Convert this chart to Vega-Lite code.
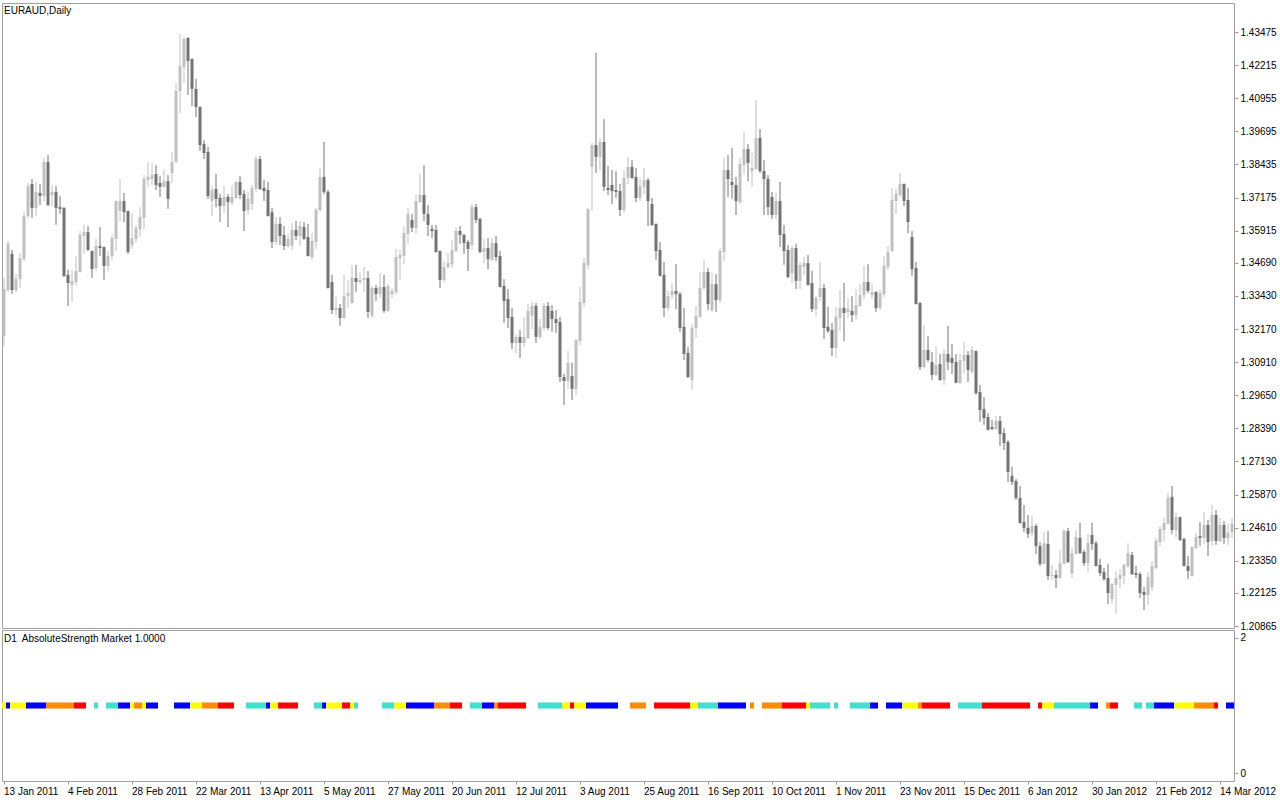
{
"$schema":"https://vega.github.io/schema/vega-lite/v6.json",
"padding":{"left":1,"top":2,"right":0,"bottom":0},
"background":"white",
"bounds":"flush",
"spacing":2,
"resolve":{"scale":{"x":"shared"}},
"config":{"font":"Liberation Sans","view":{"stroke":"#a0a0a0","strokeWidth":1},"axis":{"labelFont":"Liberation Sans","labelFontSize":10,"labelColor":"#000000","tickColor":"#a0a0a0","domain":false,"grid":false,"title":null,"labelFlush":false,"labelBound":false,"labelOverlap":false,"labelSeparation":0},"axisY":{"labelOverlap":false},"axisRight":{"labelOverlap":false},"axisQuantitative":{"labelOverlap":false}},
"datasets":{"d":[
{"t":"2011-01-13","o":1.3190,"h":1.3411,"l":1.3152,"c":1.3369,"s":"Y"},
{"t":"2011-01-14","o":1.3365,"h":1.3552,"l":1.3358,"c":1.3541,"s":"B"},
{"t":"2011-01-17","o":1.3503,"h":1.3518,"l":1.3350,"c":1.3365,"s":"Y"},
{"t":"2011-01-18","o":1.3365,"h":1.3426,"l":1.3358,"c":1.3407,"s":"Y"},
{"t":"2011-01-19","o":1.3407,"h":1.3506,"l":1.3373,"c":1.3487,"s":"Y"},
{"t":"2011-01-20","o":1.3483,"h":1.3662,"l":1.3476,"c":1.3647,"s":"Y"},
{"t":"2011-01-21","o":1.3647,"h":1.3773,"l":1.3640,"c":1.3761,"s":"B"},
{"t":"2011-01-24","o":1.3769,"h":1.3788,"l":1.3640,"c":1.3678,"s":"B"},
{"t":"2011-01-25","o":1.3678,"h":1.3777,"l":1.3647,"c":1.3739,"s":"B"},
{"t":"2011-01-26","o":1.3735,"h":1.3769,"l":1.3689,"c":1.3723,"s":"B"},
{"t":"2011-01-27","o":1.3723,"h":1.3868,"l":1.3704,"c":1.3853,"s":"B"},
{"t":"2011-01-28","o":1.3853,"h":1.3879,"l":1.3685,"c":1.3689,"s":"O"},
{"t":"2011-01-31","o":1.3727,"h":1.3765,"l":1.3685,"c":1.3739,"s":"O"},
{"t":"2011-02-01","o":1.3739,"h":1.3761,"l":1.3613,"c":1.3678,"s":"O"},
{"t":"2011-02-02","o":1.3681,"h":1.3723,"l":1.3655,"c":1.3674,"s":"O"},
{"t":"2011-02-03","o":1.3678,"h":1.3681,"l":1.3415,"c":1.3419,"s":"O"},
{"t":"2011-02-04","o":1.3423,"h":1.3442,"l":1.3305,"c":1.3392,"s":"O"},
{"t":"2011-02-07","o":1.3385,"h":1.3442,"l":1.3320,"c":1.3400,"s":"O"},
{"t":"2011-02-08","o":1.3396,"h":1.3495,"l":1.3381,"c":1.3438,"s":"R"},
{"t":"2011-02-09","o":1.3434,"h":1.3590,"l":1.3432,"c":1.3575,"s":"R"},
{"t":"2011-02-10","o":1.3571,"h":1.3613,"l":1.3503,"c":1.3586,"s":"R"},
{"t":"2011-02-11","o":1.3586,"h":1.3609,"l":1.3514,"c":1.3518,"s":""},
{"t":"2011-02-14","o":1.3514,"h":1.3516,"l":1.3411,"c":1.3445,"s":""},
{"t":"2011-02-15","o":1.3449,"h":1.3560,"l":1.3438,"c":1.3533,"s":"T"},
{"t":"2011-02-16","o":1.3533,"h":1.3605,"l":1.3495,"c":1.3525,"s":""},
{"t":"2011-02-17","o":1.3529,"h":1.3531,"l":1.3404,"c":1.3457,"s":""},
{"t":"2011-02-18","o":1.3457,"h":1.3514,"l":1.3438,"c":1.3495,"s":"T"},
{"t":"2011-02-21","o":1.3495,"h":1.3575,"l":1.3480,"c":1.3563,"s":"T"},
{"t":"2011-02-22","o":1.3560,"h":1.3706,"l":1.3514,"c":1.3704,"s":"T"},
{"t":"2011-02-23","o":1.3666,"h":1.3788,"l":1.3628,"c":1.3704,"s":"B"},
{"t":"2011-02-24","o":1.3704,"h":1.3735,"l":1.3624,"c":1.3662,"s":"B"},
{"t":"2011-02-25","o":1.3666,"h":1.3668,"l":1.3503,"c":1.3510,"s":"B"},
{"t":"2011-02-28","o":1.3537,"h":1.3655,"l":1.3522,"c":1.3563,"s":"Y"},
{"t":"2011-03-01","o":1.3560,"h":1.3613,"l":1.3544,"c":1.3602,"s":"O"},
{"t":"2011-03-02","o":1.3598,"h":1.3681,"l":1.3567,"c":1.3643,"s":"O"},
{"t":"2011-03-03","o":1.3640,"h":1.3803,"l":1.3598,"c":1.3788,"s":"Y"},
{"t":"2011-03-04","o":1.3784,"h":1.3853,"l":1.3758,"c":1.3796,"s":"B"},
{"t":"2011-03-07","o":1.3788,"h":1.3849,"l":1.3765,"c":1.3803,"s":"B"},
{"t":"2011-03-08","o":1.3807,"h":1.3841,"l":1.3746,"c":1.3765,"s":"B"},
{"t":"2011-03-09","o":1.3773,"h":1.3799,"l":1.3720,"c":1.3758,"s":""},
{"t":"2011-03-10","o":1.3758,"h":1.3822,"l":1.3754,"c":1.3780,"s":""},
{"t":"2011-03-11","o":1.3780,"h":1.3803,"l":1.3674,"c":1.3712,"s":""},
{"t":"2011-03-14","o":1.3811,"h":1.3891,"l":1.3773,"c":1.3853,"s":""},
{"t":"2011-03-15","o":1.3853,"h":1.4153,"l":1.3849,"c":1.4123,"s":"B"},
{"t":"2011-03-16","o":1.4123,"h":1.4340,"l":1.4039,"c":1.4218,"s":"B"},
{"t":"2011-03-17","o":1.4214,"h":1.4329,"l":1.4153,"c":1.4321,"s":"B"},
{"t":"2011-03-18","o":1.4325,"h":1.4327,"l":1.4108,"c":1.4237,"s":"B"},
{"t":"2011-03-21","o":1.4245,"h":1.4247,"l":1.4066,"c":1.4131,"s":"Y"},
{"t":"2011-03-22","o":1.4131,"h":1.4169,"l":1.4024,"c":1.4062,"s":"Y"},
{"t":"2011-03-23","o":1.4062,"h":1.4064,"l":1.3895,"c":1.3917,"s":"Y"},
{"t":"2011-03-24","o":1.3921,"h":1.3936,"l":1.3864,"c":1.3887,"s":"O"},
{"t":"2011-03-25","o":1.3891,"h":1.3910,"l":1.3712,"c":1.3723,"s":"O"},
{"t":"2011-03-28","o":1.3704,"h":1.3761,"l":1.3647,"c":1.3746,"s":"O"},
{"t":"2011-03-29","o":1.3750,"h":1.3807,"l":1.3681,"c":1.3712,"s":"O"},
{"t":"2011-03-30","o":1.3716,"h":1.3731,"l":1.3624,"c":1.3685,"s":"R"},
{"t":"2011-03-31","o":1.3685,"h":1.3761,"l":1.3659,"c":1.3720,"s":"R"},
{"t":"2011-04-01","o":1.3720,"h":1.3731,"l":1.3605,"c":1.3700,"s":"R"},
{"t":"2011-04-04","o":1.3697,"h":1.3765,"l":1.3689,"c":1.3720,"s":"R"},
{"t":"2011-04-05","o":1.3716,"h":1.3780,"l":1.3712,"c":1.3777,"s":""},
{"t":"2011-04-06","o":1.3777,"h":1.3799,"l":1.3712,"c":1.3727,"s":""},
{"t":"2011-04-07","o":1.3731,"h":1.3746,"l":1.3590,"c":1.3666,"s":""},
{"t":"2011-04-08","o":1.3670,"h":1.3739,"l":1.3651,"c":1.3712,"s":"T"},
{"t":"2011-04-11","o":1.3693,"h":1.3765,"l":1.3670,"c":1.3754,"s":"T"},
{"t":"2011-04-12","o":1.3750,"h":1.3876,"l":1.3739,"c":1.3864,"s":"T"},
{"t":"2011-04-13","o":1.3864,"h":1.3876,"l":1.3746,"c":1.3750,"s":"T"},
{"t":"2011-04-14","o":1.3754,"h":1.3784,"l":1.3704,"c":1.3742,"s":"T"},
{"t":"2011-04-15","o":1.3746,"h":1.3777,"l":1.3645,"c":1.3647,"s":"B"},
{"t":"2011-04-18","o":1.3662,"h":1.3678,"l":1.3525,"c":1.3548,"s":"Y"},
{"t":"2011-04-19","o":1.3548,"h":1.3643,"l":1.3537,"c":1.3617,"s":"Y"},
{"t":"2011-04-20","o":1.3617,"h":1.3643,"l":1.3537,"c":1.3571,"s":"R"},
{"t":"2011-04-21","o":1.3575,"h":1.3609,"l":1.3518,"c":1.3533,"s":"R"},
{"t":"2011-04-22","o":1.3533,"h":1.3579,"l":1.3525,"c":1.3560,"s":"R"},
{"t":"2011-04-25","o":1.3533,"h":1.3621,"l":1.3518,"c":1.3594,"s":"R"},
{"t":"2011-04-26","o":1.3594,"h":1.3628,"l":1.3556,"c":1.3571,"s":"R"},
{"t":"2011-04-27","o":1.3571,"h":1.3628,"l":1.3533,"c":1.3609,"s":""},
{"t":"2011-04-28","o":1.3605,"h":1.3624,"l":1.3556,"c":1.3560,"s":""},
{"t":"2011-04-29","o":1.3567,"h":1.3617,"l":1.3493,"c":1.3495,"s":""},
{"t":"2011-05-02","o":1.3491,"h":1.3582,"l":1.3480,"c":1.3552,"s":""},
{"t":"2011-05-03","o":1.3548,"h":1.3678,"l":1.3522,"c":1.3670,"s":"T"},
{"t":"2011-05-04","o":1.3670,"h":1.3830,"l":1.3662,"c":1.3796,"s":"T"},
{"t":"2011-05-05","o":1.3796,"h":1.3929,"l":1.3731,"c":1.3739,"s":"B"},
{"t":"2011-05-06","o":1.3739,"h":1.3746,"l":1.3371,"c":1.3373,"s":"Y"},
{"t":"2011-05-09","o":1.3396,"h":1.3423,"l":1.3274,"c":1.3289,"s":"Y"},
{"t":"2011-05-10","o":1.3289,"h":1.3339,"l":1.3267,"c":1.3297,"s":"Y"},
{"t":"2011-05-11","o":1.3297,"h":1.3312,"l":1.3229,"c":1.3259,"s":"Y"},
{"t":"2011-05-12","o":1.3259,"h":1.3423,"l":1.3257,"c":1.3343,"s":"R"},
{"t":"2011-05-13","o":1.3343,"h":1.3404,"l":1.3297,"c":1.3354,"s":"R"},
{"t":"2011-05-16","o":1.3316,"h":1.3461,"l":1.3314,"c":1.3411,"s":"Y"},
{"t":"2011-05-17","o":1.3411,"h":1.3461,"l":1.3358,"c":1.3396,"s":"T"},
{"t":"2011-05-18","o":1.3396,"h":1.3434,"l":1.3388,"c":1.3404,"s":""},
{"t":"2011-05-19","o":1.3404,"h":1.3453,"l":1.3358,"c":1.3411,"s":""},
{"t":"2011-05-20","o":1.3411,"h":1.3438,"l":1.3259,"c":1.3282,"s":""},
{"t":"2011-05-23","o":1.3267,"h":1.3381,"l":1.3259,"c":1.3373,"s":""},
{"t":"2011-05-24","o":1.3373,"h":1.3385,"l":1.3324,"c":1.3350,"s":""},
{"t":"2011-05-25","o":1.3350,"h":1.3430,"l":1.3335,"c":1.3377,"s":""},
{"t":"2011-05-26","o":1.3377,"h":1.3423,"l":1.3278,"c":1.3286,"s":"T"},
{"t":"2011-05-27","o":1.3286,"h":1.3388,"l":1.3282,"c":1.3381,"s":"T"},
{"t":"2011-05-30","o":1.3350,"h":1.3373,"l":1.3335,"c":1.3362,"s":"T"},
{"t":"2011-05-31","o":1.3358,"h":1.3522,"l":1.3350,"c":1.3491,"s":"Y"},
{"t":"2011-06-01","o":1.3487,"h":1.3518,"l":1.3404,"c":1.3499,"s":"Y"},
{"t":"2011-06-02","o":1.3495,"h":1.3609,"l":1.3464,"c":1.3582,"s":"Y"},
{"t":"2011-06-03","o":1.3579,"h":1.3678,"l":1.3541,"c":1.3655,"s":"B"},
{"t":"2011-06-06","o":1.3632,"h":1.3655,"l":1.3586,"c":1.3602,"s":"B"},
{"t":"2011-06-07","o":1.3602,"h":1.3727,"l":1.3579,"c":1.3704,"s":"B"},
{"t":"2011-06-08","o":1.3700,"h":1.3807,"l":1.3697,"c":1.3727,"s":"B"},
{"t":"2011-06-09","o":1.3727,"h":1.3841,"l":1.3628,"c":1.3655,"s":"B"},
{"t":"2011-06-10","o":1.3655,"h":1.3689,"l":1.3571,"c":1.3613,"s":"B"},
{"t":"2011-06-13","o":1.3598,"h":1.3613,"l":1.3563,"c":1.3590,"s":"B"},
{"t":"2011-06-14","o":1.3594,"h":1.3613,"l":1.3508,"c":1.3510,"s":"O"},
{"t":"2011-06-15","o":1.3514,"h":1.3516,"l":1.3373,"c":1.3404,"s":"O"},
{"t":"2011-06-16","o":1.3404,"h":1.3476,"l":1.3396,"c":1.3453,"s":"O"},
{"t":"2011-06-17","o":1.3453,"h":1.3506,"l":1.3445,"c":1.3468,"s":"O"},
{"t":"2011-06-20","o":1.3464,"h":1.3556,"l":1.3449,"c":1.3518,"s":"R"},
{"t":"2011-06-21","o":1.3514,"h":1.3605,"l":1.3510,"c":1.3590,"s":"R"},
{"t":"2011-06-22","o":1.3590,"h":1.3609,"l":1.3541,"c":1.3575,"s":"R"},
{"t":"2011-06-23","o":1.3575,"h":1.3579,"l":1.3503,"c":1.3544,"s":""},
{"t":"2011-06-24","o":1.3548,"h":1.3556,"l":1.3438,"c":1.3522,"s":""},
{"t":"2011-06-27","o":1.3537,"h":1.3693,"l":1.3518,"c":1.3681,"s":"T"},
{"t":"2011-06-28","o":1.3681,"h":1.3693,"l":1.3621,"c":1.3632,"s":"T"},
{"t":"2011-06-29","o":1.3636,"h":1.3640,"l":1.3506,"c":1.3510,"s":"T"},
{"t":"2011-06-30","o":1.3510,"h":1.3560,"l":1.3468,"c":1.3525,"s":"B"},
{"t":"2011-07-01","o":1.3525,"h":1.3563,"l":1.3445,"c":1.3483,"s":"B"},
{"t":"2011-07-04","o":1.3480,"h":1.3563,"l":1.3476,"c":1.3544,"s":"B"},
{"t":"2011-07-05","o":1.3544,"h":1.3571,"l":1.3476,"c":1.3491,"s":"O"},
{"t":"2011-07-06","o":1.3495,"h":1.3514,"l":1.3375,"c":1.3377,"s":"R"},
{"t":"2011-07-07","o":1.3381,"h":1.3407,"l":1.3240,"c":1.3324,"s":"R"},
{"t":"2011-07-08","o":1.3331,"h":1.3369,"l":1.3221,"c":1.3259,"s":"R"},
{"t":"2011-07-11","o":1.3263,"h":1.3297,"l":1.3141,"c":1.3164,"s":"R"},
{"t":"2011-07-12","o":1.3164,"h":1.3194,"l":1.3126,"c":1.3187,"s":"R"},
{"t":"2011-07-13","o":1.3187,"h":1.3213,"l":1.3107,"c":1.3164,"s":"R"},
{"t":"2011-07-14","o":1.3164,"h":1.3263,"l":1.3149,"c":1.3187,"s":"R"},
{"t":"2011-07-15","o":1.3183,"h":1.3312,"l":1.3179,"c":1.3286,"s":""},
{"t":"2011-07-18","o":1.3267,"h":1.3320,"l":1.3217,"c":1.3305,"s":""},
{"t":"2011-07-19","o":1.3305,"h":1.3316,"l":1.3164,"c":1.3187,"s":""},
{"t":"2011-07-20","o":1.3187,"h":1.3255,"l":1.3179,"c":1.3225,"s":"T"},
{"t":"2011-07-21","o":1.3221,"h":1.3316,"l":1.3213,"c":1.3305,"s":"T"},
{"t":"2011-07-22","o":1.3305,"h":1.3320,"l":1.3213,"c":1.3221,"s":"T"},
{"t":"2011-07-25","o":1.3286,"h":1.3308,"l":1.3206,"c":1.3255,"s":"T"},
{"t":"2011-07-26","o":1.3255,"h":1.3289,"l":1.3202,"c":1.3240,"s":"T"},
{"t":"2011-07-27","o":1.3244,"h":1.3263,"l":1.3015,"c":1.3034,"s":"T"},
{"t":"2011-07-28","o":1.3034,"h":1.3046,"l":1.2928,"c":1.3019,"s":"Y"},
{"t":"2011-07-29","o":1.3019,"h":1.3133,"l":1.2989,"c":1.3088,"s":"Y"},
{"t":"2011-08-01","o":1.3038,"h":1.3088,"l":1.2947,"c":1.2989,"s":"R"},
{"t":"2011-08-02","o":1.2989,"h":1.3179,"l":1.2966,"c":1.3175,"s":"Y"},
{"t":"2011-08-03","o":1.3171,"h":1.3377,"l":1.3156,"c":1.3320,"s":"Y"},
{"t":"2011-08-04","o":1.3316,"h":1.3487,"l":1.3301,"c":1.3468,"s":"Y"},
{"t":"2011-08-05","o":1.3461,"h":1.3678,"l":1.3445,"c":1.3674,"s":"B"},
{"t":"2011-08-08","o":1.3834,"h":1.3925,"l":1.3666,"c":1.3917,"s":"B"},
{"t":"2011-08-09","o":1.3917,"h":1.4268,"l":1.3811,"c":1.3872,"s":"B"},
{"t":"2011-08-10","o":1.3872,"h":1.3944,"l":1.3822,"c":1.3929,"s":"B"},
{"t":"2011-08-11","o":1.3929,"h":1.4016,"l":1.3742,"c":1.3758,"s":"B"},
{"t":"2011-08-12","o":1.3754,"h":1.3838,"l":1.3727,"c":1.3746,"s":"B"},
{"t":"2011-08-15","o":1.3765,"h":1.3822,"l":1.3693,"c":1.3742,"s":"B"},
{"t":"2011-08-16","o":1.3746,"h":1.3818,"l":1.3716,"c":1.3739,"s":"B"},
{"t":"2011-08-17","o":1.3742,"h":1.3769,"l":1.3647,"c":1.3670,"s":""},
{"t":"2011-08-18","o":1.3670,"h":1.3822,"l":1.3659,"c":1.3792,"s":""},
{"t":"2011-08-19","o":1.3792,"h":1.3872,"l":1.3769,"c":1.3834,"s":""},
{"t":"2011-08-22","o":1.3834,"h":1.3860,"l":1.3788,"c":1.3792,"s":"O"},
{"t":"2011-08-23","o":1.3796,"h":1.3830,"l":1.3700,"c":1.3716,"s":"O"},
{"t":"2011-08-24","o":1.3716,"h":1.3792,"l":1.3704,"c":1.3761,"s":"O"},
{"t":"2011-08-25","o":1.3758,"h":1.3830,"l":1.3731,"c":1.3784,"s":"O"},
{"t":"2011-08-26","o":1.3784,"h":1.3792,"l":1.3609,"c":1.3704,"s":""},
{"t":"2011-08-29","o":1.3693,"h":1.3716,"l":1.3609,"c":1.3613,"s":""},
{"t":"2011-08-30","o":1.3617,"h":1.3619,"l":1.3480,"c":1.3514,"s":"R"},
{"t":"2011-08-31","o":1.3518,"h":1.3548,"l":1.3417,"c":1.3419,"s":"R"},
{"t":"2011-09-01","o":1.3423,"h":1.3472,"l":1.3263,"c":1.3297,"s":"R"},
{"t":"2011-09-02","o":1.3297,"h":1.3362,"l":1.3286,"c":1.3343,"s":"R"},
{"t":"2011-09-05","o":1.3346,"h":1.3392,"l":1.3331,"c":1.3362,"s":"R"},
{"t":"2011-09-06","o":1.3362,"h":1.3464,"l":1.3293,"c":1.3350,"s":"R"},
{"t":"2011-09-07","o":1.3350,"h":1.3358,"l":1.3206,"c":1.3221,"s":"R"},
{"t":"2011-09-08","o":1.3225,"h":1.3297,"l":1.3099,"c":1.3122,"s":"R"},
{"t":"2011-09-09","o":1.3126,"h":1.3149,"l":1.3031,"c":1.3034,"s":"R"},
{"t":"2011-09-12","o":1.3023,"h":1.3236,"l":1.2985,"c":1.3221,"s":"Y"},
{"t":"2011-09-13","o":1.3221,"h":1.3305,"l":1.3183,"c":1.3267,"s":"Y"},
{"t":"2011-09-14","o":1.3263,"h":1.3434,"l":1.3259,"c":1.3373,"s":"T"},
{"t":"2011-09-15","o":1.3373,"h":1.3480,"l":1.3365,"c":1.3434,"s":"T"},
{"t":"2011-09-16","o":1.3434,"h":1.3449,"l":1.3289,"c":1.3312,"s":"T"},
{"t":"2011-09-19","o":1.3289,"h":1.3430,"l":1.3282,"c":1.3388,"s":"T"},
{"t":"2011-09-20","o":1.3388,"h":1.3426,"l":1.3282,"c":1.3327,"s":"T"},
{"t":"2011-09-21","o":1.3327,"h":1.3525,"l":1.3316,"c":1.3514,"s":"B"},
{"t":"2011-09-22","o":1.3510,"h":1.3870,"l":1.3476,"c":1.3822,"s":"B"},
{"t":"2011-09-23","o":1.3822,"h":1.3879,"l":1.3720,"c":1.3788,"s":"B"},
{"t":"2011-09-26","o":1.3777,"h":1.3906,"l":1.3712,"c":1.3765,"s":"B"},
{"t":"2011-09-27","o":1.3765,"h":1.3796,"l":1.3651,"c":1.3704,"s":"B"},
{"t":"2011-09-28","o":1.3700,"h":1.3868,"l":1.3693,"c":1.3845,"s":"B"},
{"t":"2011-09-29","o":1.3841,"h":1.3967,"l":1.3807,"c":1.3902,"s":"B"},
{"t":"2011-09-30","o":1.3902,"h":1.3921,"l":1.3780,"c":1.3849,"s":""},
{"t":"2011-10-03","o":1.3818,"h":1.3887,"l":1.3758,"c":1.3830,"s":"O"},
{"t":"2011-10-04","o":1.3826,"h":1.4089,"l":1.3822,"c":1.3944,"s":""},
{"t":"2011-10-05","o":1.3944,"h":1.3978,"l":1.3811,"c":1.3818,"s":""},
{"t":"2011-10-06","o":1.3818,"h":1.3860,"l":1.3651,"c":1.3788,"s":"O"},
{"t":"2011-10-07","o":1.3788,"h":1.3803,"l":1.3651,"c":1.3681,"s":"O"},
{"t":"2011-10-10","o":1.3720,"h":1.3739,"l":1.3636,"c":1.3651,"s":"O"},
{"t":"2011-10-11","o":1.3651,"h":1.3735,"l":1.3636,"c":1.3704,"s":"O"},
{"t":"2011-10-12","o":1.3704,"h":1.3777,"l":1.3529,"c":1.3575,"s":"O"},
{"t":"2011-10-13","o":1.3579,"h":1.3613,"l":1.3461,"c":1.3514,"s":"R"},
{"t":"2011-10-14","o":1.3518,"h":1.3537,"l":1.3411,"c":1.3415,"s":"R"},
{"t":"2011-10-17","o":1.3430,"h":1.3533,"l":1.3392,"c":1.3525,"s":"R"},
{"t":"2011-10-18","o":1.3525,"h":1.3541,"l":1.3369,"c":1.3400,"s":"R"},
{"t":"2011-10-19","o":1.3400,"h":1.3472,"l":1.3369,"c":1.3461,"s":"R"},
{"t":"2011-10-20","o":1.3453,"h":1.3491,"l":1.3423,"c":1.3468,"s":"R"},
{"t":"2011-10-21","o":1.3468,"h":1.3499,"l":1.3381,"c":1.3385,"s":"Y"},
{"t":"2011-10-24","o":1.3392,"h":1.3438,"l":1.3282,"c":1.3293,"s":"T"},
{"t":"2011-10-25","o":1.3293,"h":1.3343,"l":1.3267,"c":1.3335,"s":"T"},
{"t":"2011-10-26","o":1.3339,"h":1.3472,"l":1.3324,"c":1.3373,"s":"T"},
{"t":"2011-10-27","o":1.3373,"h":1.3388,"l":1.3179,"c":1.3221,"s":"T"},
{"t":"2011-10-28","o":1.3225,"h":1.3301,"l":1.3202,"c":1.3209,"s":"T"},
{"t":"2011-10-31","o":1.3213,"h":1.3240,"l":1.3114,"c":1.3145,"s":""},
{"t":"2011-11-01","o":1.3145,"h":1.3301,"l":1.3107,"c":1.3263,"s":"T"},
{"t":"2011-11-02","o":1.3259,"h":1.3365,"l":1.3209,"c":1.3297,"s":""},
{"t":"2011-11-03","o":1.3297,"h":1.3392,"l":1.3171,"c":1.3278,"s":""},
{"t":"2011-11-04","o":1.3282,"h":1.3335,"l":1.3259,"c":1.3293,"s":""},
{"t":"2011-11-07","o":1.3286,"h":1.3343,"l":1.3244,"c":1.3270,"s":"T"},
{"t":"2011-11-08","o":1.3270,"h":1.3369,"l":1.3251,"c":1.3308,"s":"T"},
{"t":"2011-11-09","o":1.3305,"h":1.3388,"l":1.3301,"c":1.3346,"s":"T"},
{"t":"2011-11-10","o":1.3346,"h":1.3457,"l":1.3331,"c":1.3396,"s":"T"},
{"t":"2011-11-11","o":1.3396,"h":1.3464,"l":1.3354,"c":1.3362,"s":"T"},
{"t":"2011-11-14","o":1.3346,"h":1.3388,"l":1.3331,"c":1.3358,"s":"B"},
{"t":"2011-11-15","o":1.3358,"h":1.3362,"l":1.3282,"c":1.3297,"s":"B"},
{"t":"2011-11-16","o":1.3297,"h":1.3365,"l":1.3289,"c":1.3354,"s":""},
{"t":"2011-11-17","o":1.3350,"h":1.3495,"l":1.3339,"c":1.3457,"s":""},
{"t":"2011-11-18","o":1.3453,"h":1.3533,"l":1.3442,"c":1.3510,"s":"B"},
{"t":"2011-11-21","o":1.3514,"h":1.3754,"l":1.3510,"c":1.3708,"s":"B"},
{"t":"2011-11-22","o":1.3704,"h":1.3750,"l":1.3655,"c":1.3731,"s":"B"},
{"t":"2011-11-23","o":1.3727,"h":1.3811,"l":1.3720,"c":1.3769,"s":"B"},
{"t":"2011-11-24","o":1.3769,"h":1.3771,"l":1.3685,"c":1.3704,"s":"Y"},
{"t":"2011-11-25","o":1.3708,"h":1.3754,"l":1.3582,"c":1.3624,"s":"Y"},
{"t":"2011-11-28","o":1.3567,"h":1.3590,"l":1.3419,"c":1.3445,"s":"Y"},
{"t":"2011-11-29","o":1.3449,"h":1.3472,"l":1.3310,"c":1.3312,"s":"Y"},
{"t":"2011-11-30","o":1.3316,"h":1.3318,"l":1.3061,"c":1.3072,"s":"O"},
{"t":"2011-12-01","o":1.3072,"h":1.3232,"l":1.3069,"c":1.3137,"s":"R"},
{"t":"2011-12-02","o":1.3137,"h":1.3190,"l":1.3091,"c":1.3099,"s":"R"},
{"t":"2011-12-05","o":1.3091,"h":1.3129,"l":1.3023,"c":1.3042,"s":"R"},
{"t":"2011-12-06","o":1.3042,"h":1.3152,"l":1.3038,"c":1.3080,"s":"R"},
{"t":"2011-12-07","o":1.3084,"h":1.3122,"l":1.3019,"c":1.3023,"s":"R"},
{"t":"2011-12-08","o":1.3023,"h":1.3141,"l":1.3004,"c":1.3122,"s":"R"},
{"t":"2011-12-09","o":1.3122,"h":1.3229,"l":1.3061,"c":1.3091,"s":"R"},
{"t":"2011-12-12","o":1.3107,"h":1.3160,"l":1.3046,"c":1.3088,"s":""},
{"t":"2011-12-13","o":1.3091,"h":1.3122,"l":1.3010,"c":1.3012,"s":""},
{"t":"2011-12-14","o":1.3012,"h":1.3122,"l":1.3008,"c":1.3099,"s":"T"},
{"t":"2011-12-15","o":1.3095,"h":1.3168,"l":1.3046,"c":1.3118,"s":"T"},
{"t":"2011-12-16","o":1.3118,"h":1.3133,"l":1.3015,"c":1.3061,"s":"T"},
{"t":"2011-12-19","o":1.3053,"h":1.3152,"l":1.3049,"c":1.3137,"s":"T"},
{"t":"2011-12-20","o":1.3133,"h":1.3135,"l":1.2966,"c":1.2973,"s":"T"},
{"t":"2011-12-21","o":1.2977,"h":1.3004,"l":1.2863,"c":1.2909,"s":"T"},
{"t":"2011-12-22","o":1.2912,"h":1.2958,"l":1.2852,"c":1.2878,"s":"R"},
{"t":"2011-12-23","o":1.2882,"h":1.2897,"l":1.2831,"c":1.2833,"s":"R"},
{"t":"2011-12-26","o":1.2844,"h":1.2871,"l":1.2833,"c":1.2836,"s":"R"},
{"t":"2011-12-27","o":1.2836,"h":1.2886,"l":1.2833,"c":1.2867,"s":"R"},
{"t":"2011-12-28","o":1.2867,"h":1.2886,"l":1.2772,"c":1.2817,"s":"R"},
{"t":"2011-12-29","o":1.2821,"h":1.2840,"l":1.2756,"c":1.2783,"s":"R"},
{"t":"2011-12-30","o":1.2787,"h":1.2794,"l":1.2635,"c":1.2673,"s":"R"},
{"t":"2012-01-02","o":1.2658,"h":1.2692,"l":1.2623,"c":1.2635,"s":"R"},
{"t":"2012-01-03","o":1.2638,"h":1.2646,"l":1.2566,"c":1.2574,"s":"R"},
{"t":"2012-01-04","o":1.2574,"h":1.2619,"l":1.2475,"c":1.2479,"s":"R"},
{"t":"2012-01-05","o":1.2482,"h":1.2547,"l":1.2444,"c":1.2460,"s":"R"},
{"t":"2012-01-06","o":1.2460,"h":1.2509,"l":1.2422,"c":1.2437,"s":"R"},
{"t":"2012-01-09","o":1.2441,"h":1.2505,"l":1.2429,"c":1.2467,"s":""},
{"t":"2012-01-10","o":1.2467,"h":1.2475,"l":1.2361,"c":1.2391,"s":""},
{"t":"2012-01-11","o":1.2391,"h":1.2406,"l":1.2315,"c":1.2323,"s":"R"},
{"t":"2012-01-12","o":1.2323,"h":1.2444,"l":1.2321,"c":1.2402,"s":"Y"},
{"t":"2012-01-13","o":1.2399,"h":1.2448,"l":1.2262,"c":1.2277,"s":"Y"},
{"t":"2012-01-16","o":1.2277,"h":1.2319,"l":1.2262,"c":1.2281,"s":"Y"},
{"t":"2012-01-17","o":1.2281,"h":1.2300,"l":1.2231,"c":1.2269,"s":"T"},
{"t":"2012-01-18","o":1.2269,"h":1.2376,"l":1.2265,"c":1.2326,"s":"T"},
{"t":"2012-01-19","o":1.2323,"h":1.2456,"l":1.2321,"c":1.2448,"s":"T"},
{"t":"2012-01-20","o":1.2448,"h":1.2460,"l":1.2326,"c":1.2330,"s":"T"},
{"t":"2012-01-23","o":1.2288,"h":1.2383,"l":1.2269,"c":1.2364,"s":"T"},
{"t":"2012-01-24","o":1.2361,"h":1.2452,"l":1.2359,"c":1.2425,"s":"T"},
{"t":"2012-01-25","o":1.2422,"h":1.2479,"l":1.2361,"c":1.2364,"s":"T"},
{"t":"2012-01-26","o":1.2368,"h":1.2376,"l":1.2315,"c":1.2326,"s":"T"},
{"t":"2012-01-27","o":1.2326,"h":1.2437,"l":1.2292,"c":1.2402,"s":"T"},
{"t":"2012-01-30","o":1.2433,"h":1.2479,"l":1.2376,"c":1.2399,"s":"B"},
{"t":"2012-01-31","o":1.2402,"h":1.2410,"l":1.2313,"c":1.2315,"s":"B"},
{"t":"2012-02-01","o":1.2319,"h":1.2342,"l":1.2277,"c":1.2288,"s":""},
{"t":"2012-02-02","o":1.2292,"h":1.2307,"l":1.2258,"c":1.2265,"s":""},
{"t":"2012-02-03","o":1.2269,"h":1.2323,"l":1.2170,"c":1.2212,"s":"O"},
{"t":"2012-02-06","o":1.2189,"h":1.2250,"l":1.2170,"c":1.2246,"s":"R"},
{"t":"2012-02-07","o":1.2243,"h":1.2296,"l":1.2132,"c":1.2269,"s":"R"},
{"t":"2012-02-08","o":1.2265,"h":1.2303,"l":1.2231,"c":1.2281,"s":""},
{"t":"2012-02-09","o":1.2277,"h":1.2323,"l":1.2246,"c":1.2319,"s":""},
{"t":"2012-02-10","o":1.2315,"h":1.2402,"l":1.2307,"c":1.2364,"s":""},
{"t":"2012-02-13","o":1.2357,"h":1.2368,"l":1.2281,"c":1.2284,"s":""},
{"t":"2012-02-14","o":1.2288,"h":1.2315,"l":1.2269,"c":1.2281,"s":"T"},
{"t":"2012-02-15","o":1.2284,"h":1.2292,"l":1.2193,"c":1.2212,"s":"T"},
{"t":"2012-02-16","o":1.2216,"h":1.2235,"l":1.2147,"c":1.2205,"s":""},
{"t":"2012-02-17","o":1.2205,"h":1.2292,"l":1.2167,"c":1.2273,"s":"T"},
{"t":"2012-02-20","o":1.2235,"h":1.2334,"l":1.2220,"c":1.2315,"s":"T"},
{"t":"2012-02-21","o":1.2307,"h":1.2422,"l":1.2303,"c":1.2410,"s":"B"},
{"t":"2012-02-22","o":1.2406,"h":1.2467,"l":1.2391,"c":1.2456,"s":"B"},
{"t":"2012-02-23","o":1.2452,"h":1.2498,"l":1.2410,"c":1.2479,"s":"B"},
{"t":"2012-02-24","o":1.2475,"h":1.2593,"l":1.2473,"c":1.2574,"s":"B"},
{"t":"2012-02-27","o":1.2578,"h":1.2619,"l":1.2437,"c":1.2452,"s":"B"},
{"t":"2012-02-28","o":1.2452,"h":1.2517,"l":1.2422,"c":1.2501,"s":"Y"},
{"t":"2012-02-29","o":1.2501,"h":1.2503,"l":1.2410,"c":1.2414,"s":"Y"},
{"t":"2012-03-01","o":1.2418,"h":1.2422,"l":1.2313,"c":1.2315,"s":"Y"},
{"t":"2012-03-02","o":1.2315,"h":1.2353,"l":1.2265,"c":1.2296,"s":"Y"},
{"t":"2012-03-05","o":1.2277,"h":1.2391,"l":1.2275,"c":1.2387,"s":"Y"},
{"t":"2012-03-06","o":1.2383,"h":1.2441,"l":1.2380,"c":1.2425,"s":"O"},
{"t":"2012-03-07","o":1.2429,"h":1.2482,"l":1.2391,"c":1.2422,"s":"O"},
{"t":"2012-03-08","o":1.2422,"h":1.2520,"l":1.2399,"c":1.2471,"s":"O"},
{"t":"2012-03-09","o":1.2471,"h":1.2490,"l":1.2353,"c":1.2406,"s":"O"},
{"t":"2012-03-12","o":1.2410,"h":1.2547,"l":1.2391,"c":1.2509,"s":"O"},
{"t":"2012-03-13","o":1.2509,"h":1.2528,"l":1.2395,"c":1.2410,"s":"R"},
{"t":"2012-03-14","o":1.2410,"h":1.2498,"l":1.2406,"c":1.2471,"s":""},
{"t":"2012-03-15","o":1.2471,"h":1.2486,"l":1.2399,"c":1.2422,"s":""},
{"t":"2012-03-16","o":1.2422,"h":1.2475,"l":1.2395,"c":1.2441,"s":"B"},
{"t":"2012-03-19","o":1.2444,"h":1.2498,"l":1.2422,"c":1.2475,"s":"B"}
]},
"vconcat":[
{
"width":1232,"height":625,
"layer":[
{"data":{"name":"d"},"mark":{"type":"rule","strokeWidth":1},
"encoding":{
"x":{"field":"t","type":"ordinal","scale":{"paddingInner":0,"paddingOuter":0},"axis":null},
"y":{"field":"l","type":"quantitative","scale":{"domain":[1.20789,1.44579],"zero":false,"nice":false},"axis":{"orient":"right","values":[1.43475,1.42215,1.40955,1.39695,1.38435,1.37175,1.35915,1.3469,1.3343,1.3217,1.3091,1.2965,1.2839,1.2713,1.2587,1.2461,1.2335,1.22125,1.20865],"format":".5f","tickSize":4,"labelPadding":2,"labelOverlap":false,"labelSeparation":0,"labelFontSize":10}},
"y2":{"field":"h"},
"color":{"condition":{"test":"datum.c >= datum.o","value":"#c0c0c0"},"value":"#737373"}}},
{"data":{"name":"d"},"mark":{"type":"bar","width":{"band":0.75}},
"encoding":{
"x":{"field":"t","type":"ordinal","scale":{"paddingInner":0,"paddingOuter":0},"axis":null},
"y":{"field":"o","type":"quantitative","axis":{"orient":"right","values":[1.43475,1.42215,1.40955,1.39695,1.38435,1.37175,1.35915,1.3469,1.3343,1.3217,1.3091,1.2965,1.2839,1.2713,1.2587,1.2461,1.2335,1.22125,1.20865],"format":".5f","tickSize":4,"labelPadding":2,"labelOverlap":false,"labelSeparation":0,"labelFontSize":10}},
"y2":{"field":"c"},
"color":{"condition":{"test":"datum.c >= datum.o","value":"#c0c0c0"},"value":"#737373"}}},
{"data":{"values":[{"label":"EURAUD,Daily"}]},"mark":{"type":"text","align":"left","baseline":"middle","fontSize":10,"color":"#000000"},
"encoding":{"x":{"datum":"2011-01-13","type":"ordinal"},"y":{"datum":1.44274,"type":"quantitative","axis":{"orient":"right","values":[1.43475,1.42215,1.40955,1.39695,1.38435,1.37175,1.35915,1.3469,1.3343,1.3217,1.3091,1.2965,1.2839,1.2713,1.2587,1.2461,1.2335,1.22125,1.20865],"format":".5f","tickSize":4,"labelPadding":2,"labelOverlap":false,"labelSeparation":0,"labelFontSize":10}},"text":{"field":"label"}}}
]
},
{
"width":1232,"height":151,
"layer":[
{"data":{"name":"d"},"transform":[{"filter":"datum.s != ''"}],
"mark":{"type":"bar","width":{"band":1}},
"encoding":{
"x":{"field":"t","type":"ordinal","scale":{"paddingInner":0,"paddingOuter":0},"axis":{"orient":"bottom","values":["2011-01-13","2011-02-04","2011-02-28","2011-03-22","2011-04-13","2011-05-05","2011-05-27","2011-06-20","2011-07-12","2011-08-03","2011-08-25","2011-09-16","2011-10-10","2011-11-01","2011-11-23","2011-12-15","2012-01-06","2012-01-30","2012-02-21","2012-03-14"],"labelExpr":"utcFormat(toDate(datum.value), '%-d %b %Y')","labelAlign":"left","labelAngle":0,"tickSize":3,"labelPadding":2,"labelOverlap":false}},
"y":{"datum":0.955,"type":"quantitative","scale":{"domain":[-0.1185,2.1185],"zero":false,"nice":false},"axis":{"orient":"right","values":[0,2],"format":"d","tickSize":4,"labelPadding":2,"labelOverlap":false}},
"y2":{"datum":1.045},
"color":{"field":"s","type":"nominal","scale":{"domain":["Y","B","O","R","T"],"range":["#ffff00","#0000ff","#ff8c00","#ff0000","#40e0d0"]},"legend":null}}},
{"data":{"values":[{"label":"D1\u00a0 AbsoluteStrength Market 1.0000"}]},"mark":{"type":"text","align":"left","baseline":"middle","fontSize":10,"color":"#000000"},
"encoding":{"x":{"datum":"2011-01-13","type":"ordinal"},"y":{"datum":1.985,"type":"quantitative","axis":{"orient":"right","values":[0,2],"format":"d","tickSize":4,"labelPadding":2,"labelOverlap":false}},"text":{"field":"label"}}}
]
}
]
}
